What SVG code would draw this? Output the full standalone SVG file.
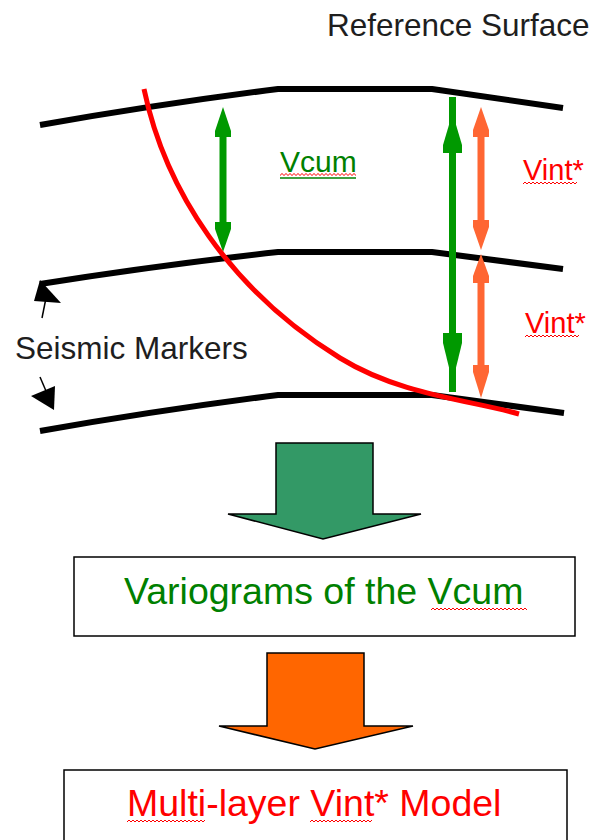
<svg xmlns="http://www.w3.org/2000/svg" width="592" height="840" viewBox="0 0 592 840">
<defs>
<style>
.t{font-family:"Liberation Sans",Arial,sans-serif}
.dark{fill:#1e1e1e}
.mk{fill:none;stroke:#000;stroke-width:6;stroke-linejoin:round}
.g{fill:#009900}
.o{fill:#ff6633}
.box{fill:#fff;stroke:#000;stroke-width:1.5}
.sq{fill:url(#sq)}
</style>
<pattern id="sq" width="4" height="4" patternUnits="userSpaceOnUse">
<path d="M0,3 L2,1 L4,3" fill="none" stroke="#ff0000" stroke-width="1"/>
</pattern>
</defs>
<rect width="592" height="840" fill="#fff"/>

<g id="reference-surface-label">
<text class="t dark" x="327" y="36" font-size="31.5">Reference Surface</text>
</g>

<g id="marker-top"><path class="mk" d="M40,125 Q160,104 278,89 L432,89 L563,108"/></g>
<g id="marker-middle"><path class="mk" d="M40,284 Q160,265 278,252 L432,252 L563,269"/></g>
<g id="marker-bottom"><path class="mk" d="M40,431 Q160,410 278,395 L432,395 L564,413"/></g>

<g id="vcum-arrow-short">
<rect class="g" x="219.5" y="130" width="7" height="100"/>
<polygon class="g" points="223,107 231,131 231,137 215,137 215,131"/>
<polygon class="g" points="223,252 231,229 231,222 215,222 215,229"/>
</g>
<g id="vcum-arrow-long">
<rect class="g" x="449" y="97" width="7" height="295"/>
<polygon class="g" points="452.5,113 462,145 462,153 443,153 443,145"/>
<polygon class="g" points="452.5,382 462,343 462,333 443,333 443,343"/>
</g>
<g id="vint-arrow-upper">
<rect class="o" x="477.5" y="130" width="7" height="97"/>
<polygon class="o" points="481,107 489,130 489,137 473,137 473,130"/>
<polygon class="o" points="481,250 489,227 489,220 473,220 473,227"/>
</g>
<g id="vint-arrow-lower">
<rect class="o" x="477.5" y="276" width="7" height="96"/>
<polygon class="o" points="481,254 489,276 489,283 473,283 473,276"/>
<polygon class="o" points="481,398 489,372 489,365 473,365 473,372"/>
</g>

<g id="well-path">
<path d="M144,89 C165,190 230,290 340,358 C400,395 470,400 519,414" fill="none" stroke="#ff0000" stroke-width="5"/>
</g>

<g id="vcum-label">
<text class="t" x="280" y="172" font-size="30" fill="#008000">Vcum</text>
<rect class="sq" x="0" y="0" width="76" height="4" transform="translate(280,172.5)"/>
<line x1="280" y1="178" x2="356" y2="178" stroke="#008000" stroke-width="1.5"/>
</g>
<g id="vint-label-upper">
<text class="t" x="523" y="180" font-size="29" fill="#ff0000">Vint*</text>
<rect class="sq" x="0" y="0" width="54" height="4" transform="translate(523,181)"/>
</g>
<g id="vint-label-lower">
<text class="t" x="525" y="333" font-size="29" fill="#ff0000">Vint*</text>
<rect class="sq" x="0" y="0" width="54" height="4" transform="translate(525,334)"/>
</g>

<g id="seismic-markers-label">
<text class="t dark" x="15" y="359" font-size="31.5">Seismic Markers</text>
</g>

<g id="connectors">
<line x1="42" y1="318" x2="46" y2="298" stroke="#000" stroke-width="1.5"/>
<polygon points="40,280 34,301 61,303" fill="#000"/>
<line x1="40" y1="377" x2="46" y2="391" stroke="#000" stroke-width="1.5"/>
<polygon points="31,396 55,386 54,410" fill="#000"/>
<polygon points="276,443 373,443 373,514 421,514 323,539 228,514 276,514" fill="#339966" stroke="#000" stroke-width="1.5" stroke-linejoin="miter"/>
<polygon points="267,653 364,653 364,726 413,726 315,749 219,726 267,726" fill="#ff6600" stroke="#000" stroke-width="1.5" stroke-linejoin="miter"/>
</g>

<g id="variograms-box">
<rect class="box" x="74" y="557" width="501" height="79"/>
<text class="t" x="124" y="604" font-size="37.5" fill="#008000">Variograms of the Vcum</text>
<rect class="sq" x="0" y="0" width="96" height="4" transform="translate(431,607)"/>
</g>

<g id="multilayer-box">
<rect class="box" x="64" y="770" width="503" height="85"/>
<text class="t" x="127" y="816" font-size="37.5" fill="#ff0000">Multi-layer Vint* Model</text>
<rect class="sq" x="0" y="0" width="78" height="4" transform="translate(127,819)"/>
<rect class="sq" x="0" y="0" width="62" height="4" transform="translate(310,819)"/>
</g>
</svg>
